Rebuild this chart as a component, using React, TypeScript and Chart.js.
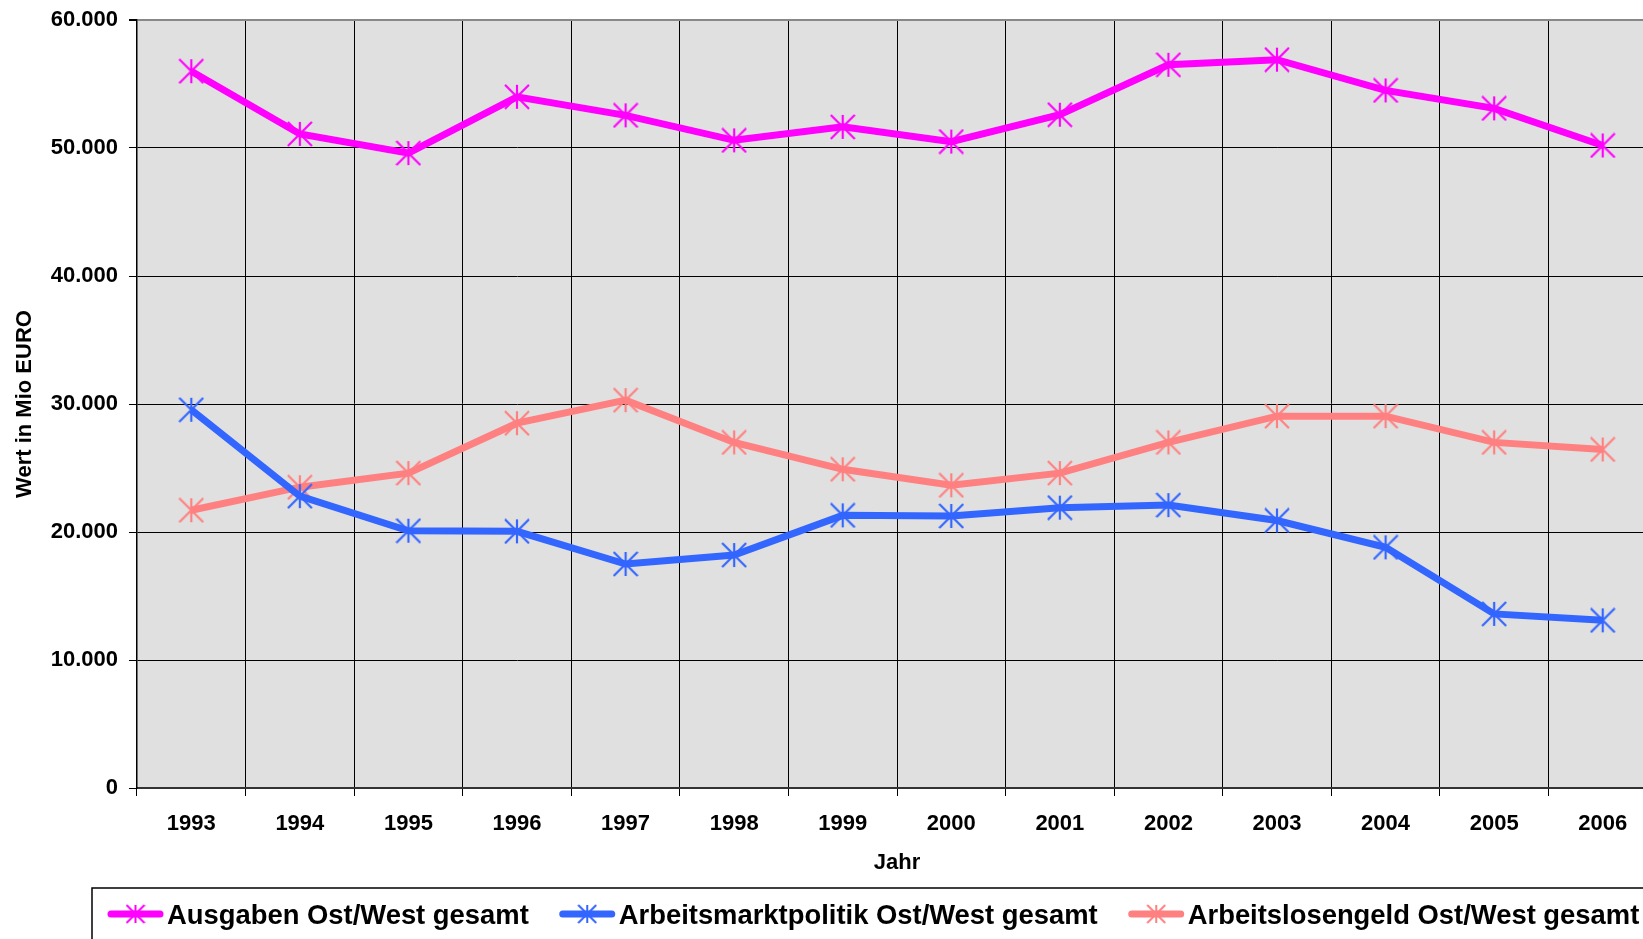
import React, { useEffect, useRef } from "react";
import { Chart, registerables } from "chart.js";

Chart.register(...registerables);

const years = ["1993", "1994", "1995", "1996", "1997", "1998", "1999", "2000", "2001", "2002", "2003", "2004", "2005", "2006"];
const ausgaben = [56000, 51100, 49600, 54000, 52550, 50600, 51650, 50500, 52600, 56500, 56900, 54500, 53100, 50200];
const arbeitsmarkt = [29550, 22800, 20100, 20050, 17500, 18200, 21300, 21250, 21900, 22100, 20900, 18800, 13600, 13100];
const arbeitslosengeld = [21700, 23500, 24600, 28500, 30300, 27000, 24900, 23650, 24600, 27000, 29050, 29050, 27000, 26450];
const seriesLabels = ["Ausgaben Ost/West gesamt", "Arbeitsmarktpolitik Ost/West gesamt", "Arbeitslosengeld Ost/West gesamt"];
const seriesColors = ["#FF00FF", "#3366FF", "#FF8080"];

const FONT = "'Liberation Sans', Arial, Helvetica, sans-serif";

function fmt(v: number): string {
  const s = Math.round(v).toString();
  return s.replace(/\B(?=(\d{3})+(?!\d))/g, ".");
}

function makeStar(color: string, size: number, lw: number): HTMLCanvasElement {
  const c = document.createElement("canvas");
  c.width = size;
  c.height = size;
  const g = c.getContext("2d")!;
  g.strokeStyle = color;
  g.lineWidth = lw;
  const m = size / 2;
  const r = size / 2 - 1;
  g.beginPath();
  g.moveTo(m, m - r);
  g.lineTo(m, m + r);
  g.moveTo(m - r, m - r);
  g.lineTo(m + r, m + r);
  g.moveTo(m + r, m - r);
  g.lineTo(m - r, m + r);
  g.stroke();
  return c;
}

const bgPlugin = {
  id: "plotBg",
  beforeDraw(chart: any) {
    const { ctx, chartArea } = chart;
    ctx.save();
    ctx.fillStyle = "#E0E0E0";
    ctx.fillRect(chartArea.left, chartArea.top, chartArea.right - chartArea.left, chartArea.bottom - chartArea.top);
    ctx.restore();
  },
};

const legendPlugin = {
  id: "boxLegend",
  afterDraw(chart: any) {
    const ctx = chart.ctx;
    ctx.save();
    ctx.strokeStyle = "#000";
    ctx.lineWidth = 1.5;
    ctx.strokeRect(92, 888, 2000, 200);
    ctx.font = "bold 27.4px " + FONT;
    ctx.textBaseline = "middle";
    ctx.textAlign = "left";
    let x = 108;
    const y = 914;
    chart.data.datasets.forEach((ds: any) => {
      ctx.strokeStyle = ds.borderColor;
      ctx.lineWidth = 7;
      ctx.lineCap = "round";
      ctx.beginPath();
      ctx.moveTo(x + 3, y);
      ctx.lineTo(x + 52, y);
      ctx.stroke();
      const img = ds.legendStar as HTMLCanvasElement;
      if (img) ctx.drawImage(img, x + 27.5 - 10, y - 10, 20, 20);
      ctx.fillStyle = "#000";
      ctx.fillText(ds.label, x + 59, y + 2);
      x += 59 + ctx.measureText(ds.label).width + 31;
    });
    ctx.restore();
  },
};

export default function App() {
  const ref = useRef<HTMLCanvasElement | null>(null);

  useEffect(() => {
    if (!ref.current) return;
    const values = [ausgaben, arbeitsmarkt, arbeitslosengeld];
    const datasets = values.map((vals, i) => ({
      label: seriesLabels[i],
      data: vals,
      borderColor: seriesColors[i],
      backgroundColor: seriesColors[i],
      borderWidth: 7,
      tension: 0,
      pointStyle: makeStar(seriesColors[i], 26, 2.2),
      legendStar: makeStar(seriesColors[i], 20, 2),
      pointRadius: 12,
      pointHoverRadius: 12,
    }));
    const chart = new Chart(ref.current, {
      type: "line",
      data: { labels: years, datasets: datasets as any },
      plugins: [bgPlugin, legendPlugin],
      options: {
        animation: false,
        responsive: false,
        devicePixelRatio: 1,
        layout: { autoPadding: false, padding: { left: 0, right: 3, top: 20, bottom: 63 } },
        plugins: { legend: { display: false }, tooltip: { enabled: false } },
        scales: {
          x: {
            offset: true,
            grid: {
              offset: true,
              color: "#000",
              lineWidth: 1,
              tickLength: 8,
              tickColor: "#000",
            },
            border: { color: "#333", width: 2 },
            ticks: {
              color: "#000",
              font: { family: FONT, size: 22, weight: "bold" },
              padding: 15,
              maxRotation: 0,
              autoSkip: false,
            },
            title: {
              display: true,
              text: "Jahr",
              color: "#000",
              font: { family: FONT, size: 22, weight: "bold" },
              padding: 0,
            },
            afterFit(s: any) {
              s.height = 88;
              s.paddingLeft = 0;
              s.paddingRight = 0;
            },
          },
          y: {
            min: 0,
            max: 60000,
            grid: {
              color: (c: any) => (c.tick && c.tick.value === 60000 ? "#888" : "#000"),
              lineWidth: (c: any) => (c.tick && c.tick.value === 60000 ? 2 : 1),
              tickLength: 8,
              tickColor: "#000",
            },
            border: { color: "#000", width: 1.5 },
            ticks: {
              stepSize: 10000,
              color: "#000",
              font: { family: FONT, size: 22, weight: "bold" },
              padding: 11,
              callback: (v: any) => fmt(Number(v)),
            },
            title: {
              display: true,
              text: "Wert in Mio EURO",
              color: "#000",
              font: { family: FONT, size: 22, weight: "bold" },
              padding: { top: 12, bottom: 0 },
            },
            afterFit(s: any) {
              s.width = 137;
              s.paddingTop = 0;
              s.paddingBottom = 0;
            },
          },
        },
      } as any,
    });
    return () => chart.destroy();
  }, []);

  return (
    <div
      style={{
        position: "fixed",
        left: 0,
        top: 0,
        width: 1643,
        height: 939,
        overflow: "hidden",
        background: "#fff",
      }}
    >
      <div style={{ width: 1660, height: 939 }}>
        <canvas ref={ref} width={1660} height={939} style={{ display: "block", width: 1660, height: 939 }} />
      </div>
    </div>
  );
}
